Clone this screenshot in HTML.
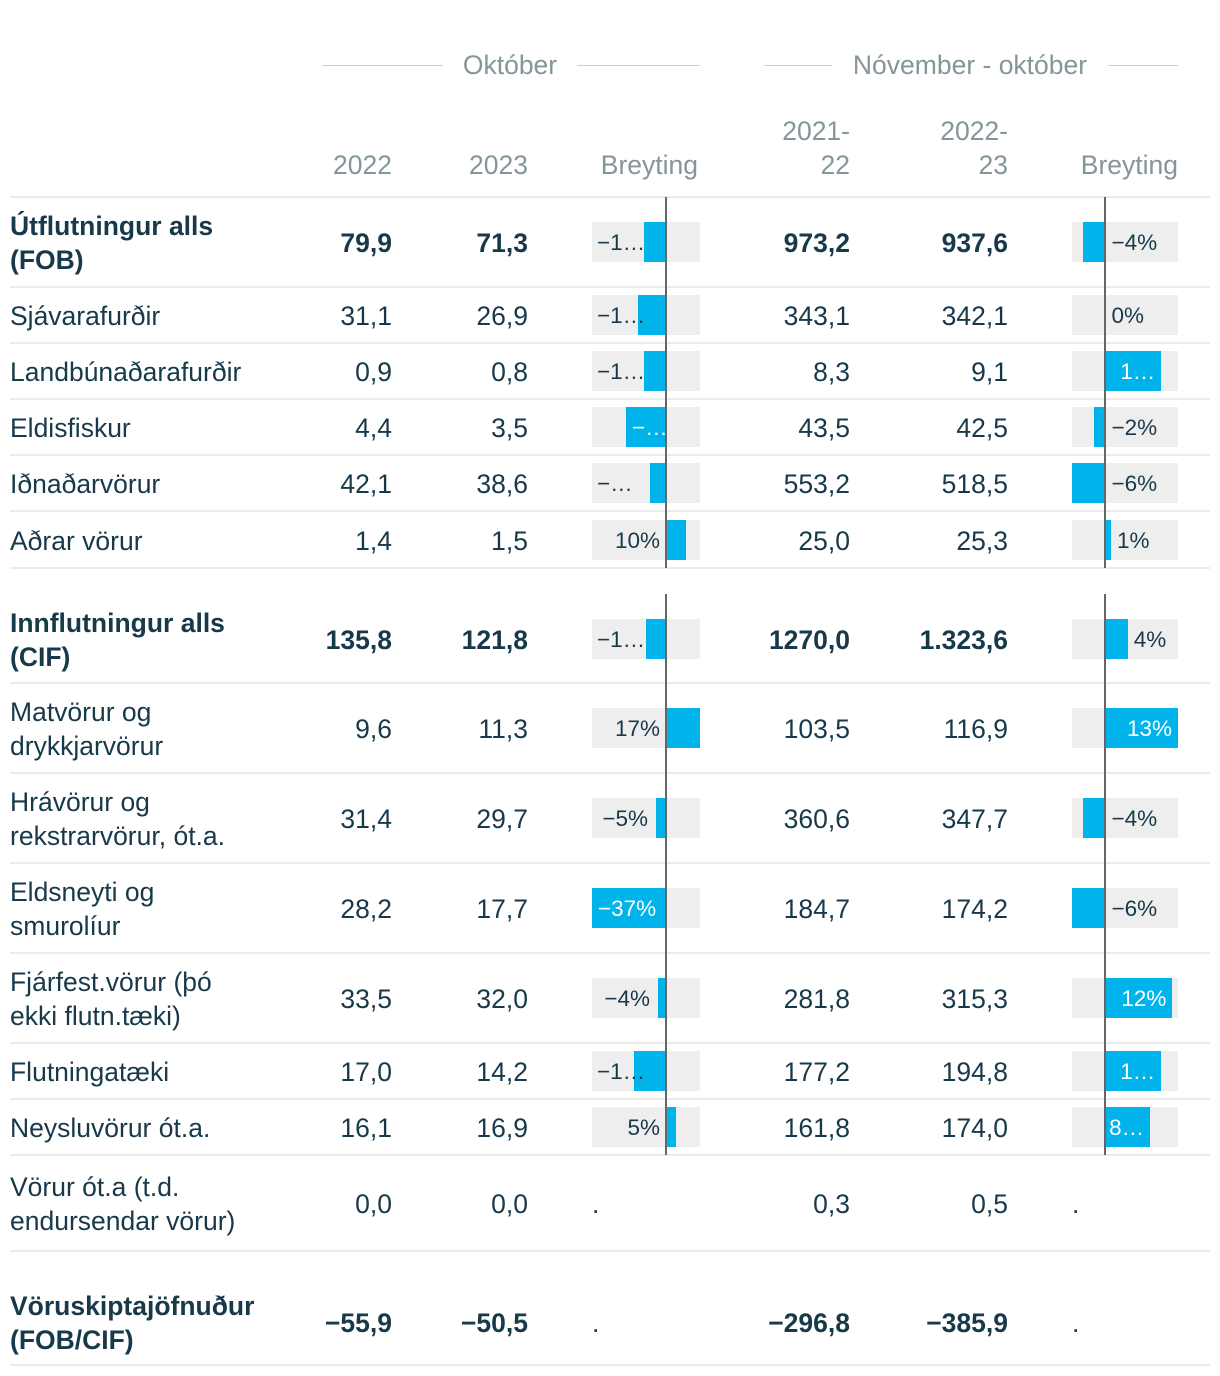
<!DOCTYPE html>
<html><head><meta charset="utf-8">
<style>
html,body{margin:0;padding:0;background:#fff;}
#root{position:relative;width:1220px;height:1376px;overflow:hidden;font-family:"Liberation Sans",sans-serif;color:#17394a;}
.t{position:absolute;white-space:nowrap;font-size:26.5px;line-height:34px;}
.h{color:#849699;}
.b{font-weight:bold;}
.r{text-align:right;}
.ln{position:absolute;background:#ebebeb;height:2px;}
.hl{position:absolute;background:#c8cfd0;height:1px;}
.bg{position:absolute;background:#eeeeee;height:40px;}
.bar{position:absolute;background:#00b4eb;height:40px;}
.ax{position:absolute;background:#666;width:2px;}
.lb{position:absolute;font-size:22.5px;line-height:40px;white-space:nowrap;}
</style></head>
<body>
<div id="root">
  <div class="hl" style="left:322px;top:65px;width:121px"></div>
  <div class="t h" style="left:443px;top:48px;width:134px;text-align:center">Október</div>
  <div class="hl" style="left:577px;top:65px;width:123px"></div>
  <div class="hl" style="left:764px;top:65px;width:68px"></div>
  <div class="t h" style="left:832px;top:48px;width:276px;text-align:center">Nóvember - október</div>
  <div class="hl" style="left:1108px;top:65px;width:70px"></div>

  <div class="t h r" style="left:292px;top:148px;width:100px">2022</div>
  <div class="t h r" style="left:428px;top:148px;width:100px">2023</div>
  <div class="t h r" style="left:560px;top:148px;width:138px">Breyting</div>
  <div class="t h r" style="left:740px;top:114px;width:110px">2021-<br>22</div>
  <div class="t h r" style="left:898px;top:114px;width:110px">2022-<br>23</div>
  <div class="t h r" style="left:1040px;top:148px;width:138px">Breyting</div>
  <div class="ln" style="left:10px;top:196px;width:1200px"></div>
</div>
<script>
const labels=["Útflutningur alls<br>(FOB)","Sjávarafurðir","Landbúnaðarafurðir","Eldisfiskur","Iðnaðarvörur","Aðrar vörur","Innflutningur alls<br>(CIF)","Matvörur og<br>drykkjarvörur","Hrávörur og<br>rekstrarvörur, ót.a.","Eldsneyti og<br>smurolíur","Fjárfest.vörur (þó<br>ekki flutn.tæki)","Flutningatæki","Neysluvörur ót.a.","Vörur ót.a (t.d.<br>endursendar vörur)","Vöruskiptajöfnuður<br>(FOB/CIF)"];
const oct2022=["79,9","31,1","0,9","4,4","42,1","1,4","135,8","9,6","31,4","28,2","33,5","17,0","16,1","0,0","−55,9"];
const oct2023=["71,3","26,9","0,8","3,5","38,6","1,5","121,8","11,3","29,7","17,7","32,0","14,2","16,9","0,0","−50,5"];
const chgOct=[-11,-14,-11,-20,-8,10,-10,17,-5,-37,-4,-16,5,null,null];
const ytd2122=["973,2","343,1","8,3","43,5","553,2","25,0","1270,0","103,5","360,6","184,7","281,8","177,2","161,8","0,3","−296,8"];
const ytd2223=["937,6","342,1","9,1","42,5","518,5","25,3","1.323,6","116,9","347,7","174,2","315,3","194,8","174,0","0,5","−385,9"];
const chgYtd=[-4,0,10,-2,-6,1,4,13,-4,-6,12,10,8,null,null];
const boldRows=[true,false,false,false,false,false,true,false,false,false,false,false,false,false,true];
// layout (not data)
const rowTop=[197,287,343,399,455,511,594,683,773,863,953,1043,1099,1155,1278];
const rowH=[90,56,56,56,56,57,89,90,90,90,90,56,56,96,87];
const root=document.getElementById('root');
const ctx=document.createElement('canvas').getContext('2d');ctx.font='22.5px "Liberation Sans"';
function fmt(v){return (v<0?'−':'')+Math.abs(Math.round(v))+'%';}
function mk(cls,style,html,name){const d=document.createElement('div');d.className=cls;d.style.cssText=style;if(html!=null)d.innerHTML=html;


root.appendChild(d);return d;}
function scaleFor(vals,x0,x1){const v=vals.filter(x=>x!=null);const mn=Math.min(0,...v),mx=Math.max(0,...v);return x=>x0+(x-mn)/(mx-mn)*(x1-x0);}
const sOct=scaleFor(chgOct,592,700), sYtd=scaleFor(chgYtd,1072,1178);
function drawBar(v,s,c0,c1,cy,name){
  mk('bg',`left:${c0}px;top:${cy-20}px;width:${c1-c0}px`,null,name+'-bg');
  const ax=s(0),xv=s(v);const bs=Math.min(ax,xv),be=Math.max(ax,xv);
  mk('bar',`left:${bs}px;top:${cy-20}px;width:${be-bs}px`,null,name+'-bar');
  let txt=fmt(v);const w=ctx.measureText(txt).width+14;
  const regs=v<0?[{k:'in',w:be-bs},{k:'out',w:bs-c0},{k:'opp',w:c1-ax}]:[{k:'in',w:be-bs},{k:'out',w:c1-be},{k:'opp',w:ax-c0}];
  let r=regs.find(g=>g.w>=w),trunc=false;
  if(!r){r=regs.reduce((a,b)=>b.w>a.w?b:a);trunc=true;txt=(txt.length>2&&r.w>40?txt[0]+(txt[0]==='−'&&r.w>40&&txt.length>3?txt[1]:''):txt[0])+'…';}
  let st,col=r.k==='in'?'#fff':'#17394a';
  if(r.k==='in') st=v<0?`left:${bs+6}px`:`left:${be-6}px;transform:translateX(-100%)`;
  else if(r.k==='out') st=v<0?(trunc?`left:${c0+5}px`:`left:${bs-8}px;transform:translateX(-100%)`):`left:${be+6}px`;
  else st=v<0?(trunc?`left:${c0+2}px`:`left:${ax+6}px`):(trunc?`left:${c0+2}px`:`left:${ax-6}px;transform:translateX(-100%)`);
  mk('lb',`${st};top:${cy-19}px;color:${col}`,txt,name+'-label');
}
labels.forEach((lab,i)=>{
  const cy=rowTop[i]+rowH[i]/2, b=boldRows[i]?' b':'';
  const two=lab.includes('<br>'), th=two?68:34;
  mk('t'+b,`left:10px;top:${cy-th/2+1}px`,lab,'row-label-'+i);
  mk('t r'+b,`left:292px;top:${cy-16}px;width:100px`,oct2022[i],'oct-2022-value-'+i);
  mk('t r'+b,`left:428px;top:${cy-16}px;width:100px`,oct2023[i],'oct-2023-value-'+i);
  mk('t r'+b,`left:700px;top:${cy-16}px;width:150px`,ytd2122[i],'ytd-2021-22-value-'+i);
  mk('t r'+b,`left:858px;top:${cy-16}px;width:150px`,ytd2223[i],'ytd-2022-23-value-'+i);
  if(chgOct[i]!=null){drawBar(chgOct[i],sOct,592,700,cy,'oct-change-'+i);}
  else mk('t',`left:592px;top:${cy-16}px`,'.','oct-change-empty-'+i);
  if(chgYtd[i]!=null){drawBar(chgYtd[i],sYtd,1072,1178,cy,'ytd-change-'+i);}
  else mk('t',`left:1072px;top:${cy-16}px`,'.','ytd-change-empty-'+i);
  mk('ln',`left:10px;top:${rowTop[i]+rowH[i]-1}px;width:1200px`,null,'row-divider-'+i);
});
[[0,5],[6,12]].forEach((g,k)=>{
  const t=rowTop[g[0]],bt=rowTop[g[1]]+rowH[g[1]];
  mk('ax',`left:${sOct(0)-1}px;top:${t}px;height:${bt-t}px`,null,'oct-zero-axis-'+k);
  mk('ax',`left:${sYtd(0)-1}px;top:${t}px;height:${bt-t}px`,null,'ytd-zero-axis-'+k);
});
</script>
</body></html>
